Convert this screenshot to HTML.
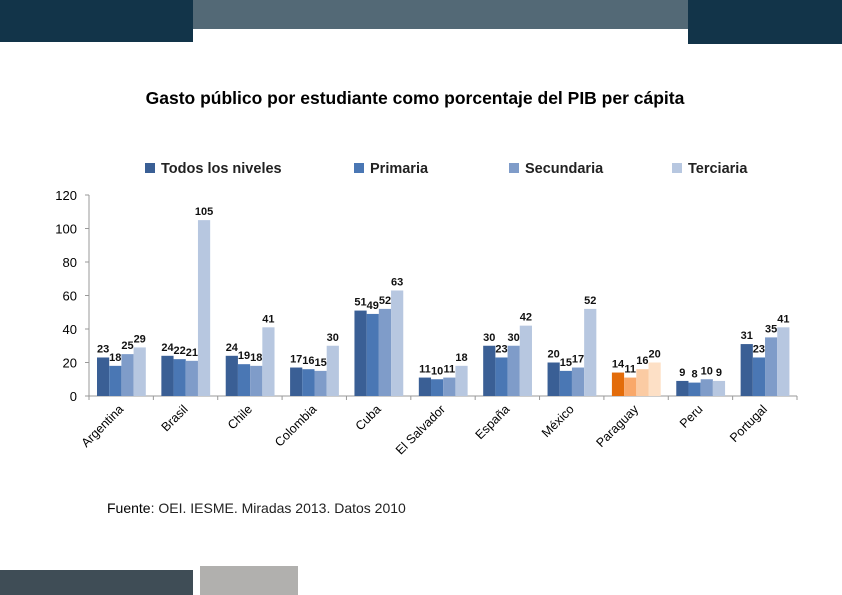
<!DOCTYPE html>
<html><head><meta charset="utf-8"><style>
body{margin:0;width:842px;height:595px;overflow:hidden;background:#fff;font-family:"Liberation Sans",sans-serif;position:relative}
.b{position:absolute}
</style></head><body>
<div class="b" style="left:0;top:0;width:193px;height:42px;background:#123449"></div>
<div class="b" style="left:193px;top:0;width:495px;height:29px;background:#536976"></div>
<div class="b" style="left:688px;top:0;width:154px;height:44px;background:#123449"></div>
<div class="b" style="left:0;top:570px;width:193px;height:25px;background:#3f4d56"></div>
<div class="b" style="left:200px;top:566px;width:98px;height:29px;background:#b1b0ae"></div>
<div class="b" style="left:0;width:830px;top:88px;text-align:center;font-weight:bold;font-size:17.5px;color:#000">Gasto público por estudiante como porcentaje del PIB per cápita</div>
<div class="b" style="left:107px;top:500px;font-size:14px;color:#222"><span style="color:#000">Fuente</span>: OEI. IESME. Miradas 2013. Datos 2010</div>
<svg class="b" style="left:0;top:0" width="842" height="595">
<g id="g"></g></svg>
<script>
const categories=["Argentina","Brasil","Chile","Colombia","Cuba","El Salvador","España","México","Paraguay","Peru","Portugal"];
const seriesNames=["Todos los niveles","Primaria","Secundaria","Terciaria"];
const todos=[23,24,24,17,51,11,30,20,14,9,31];
const primaria=[18,22,19,16,49,10,23,15,11,8,23];
const secundaria=[25,21,18,15,52,11,30,17,16,10,35];
const terciaria=[29,105,41,30,63,18,42,52,20,9,41];
const yTicks=[0,20,40,60,80,100,120];
const series=[todos,primaria,secundaria,terciaria];
const colors=["#3a5f95","#4a77b4","#7f9cc9","#b7c7e0"];
const hl=["#e36c0a","#f9a86a","#fbcba3","#fde0c6"];
const ns="http://www.w3.org/2000/svg",g=document.getElementById("g");
const x0=89,x1=797,y0=396,yTop=195,max=120;
const bw=(x1-x0)/categories.length;
const y=v=>y0-(v/max)*(y0-yTop);
function el(t,a,txt){const e=document.createElementNS(ns,t);for(const k in a)e.setAttribute(k,a[k]);if(txt!==undefined)e.textContent=txt;g.appendChild(e);return e;}
let e=el("line",{x1:x0,y1:yTop,x2:x0,y2:y0+4,stroke:"#999"});


e=el("line",{x1:x0-4,y1:y0,x2:x1,y2:y0,stroke:"#999"});


yTicks.forEach(t=>{
 e=el("text",{x:x0-12,y:y(t)+5,"text-anchor":"end","font-size":"13","fill":"#000"},t);
 
 
 el("line",{x1:x0-4,y1:y(t),x2:x0,y2:y(t),stroke:"#999"});
});
for(let i=0;i<=categories.length;i++){el("line",{x1:x0+i*bw,y1:y0,x2:x0+i*bw,y2:y0+4,stroke:"#999"});}
const w=12.2;
categories.forEach((c,i)=>{
 const gx=x0+i*bw+8;
 series.forEach((s,j)=>{
  const v=s[i],bx=gx+j*w;
  const col=c==="Paraguay"?hl[j]:colors[j];
  e=el("rect",{x:bx,y:y(v),width:w,height:y0-y(v),fill:col});
  
  
  e=el("text",{x:bx+w/2,y:y(v)-5,"text-anchor":"middle","font-size":"11","font-weight":"bold","fill":"#111"},v);
  
  
 });
 const cx=x0+(i+0.5)*bw+3;
 e=el("text",{x:cx,y:410,"text-anchor":"end","font-size":"12.5","fill":"#000",transform:`rotate(-45 ${cx} 410)`},c);
 
 
});
const lx=[145,354,509,672];
seriesNames.forEach((n,j)=>{
 e=el("rect",{x:lx[j],y:163,width:10,height:10,fill:colors[j]});
 
 
 e=el("text",{x:lx[j]+16,y:173,"font-size":"14.5","font-weight":"bold","fill":"#222"},n);
 
 
});
</script>
</body></html>
